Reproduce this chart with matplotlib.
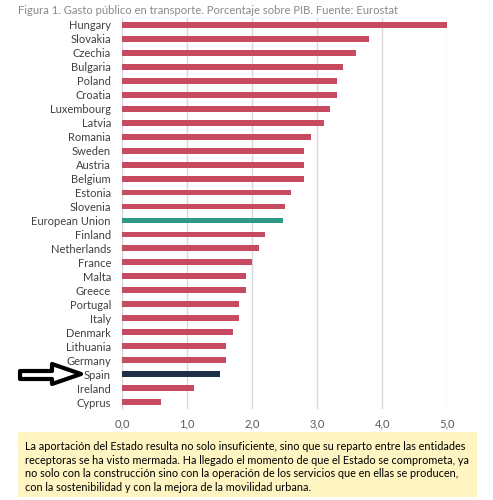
import matplotlib.pyplot as plt
import matplotlib.patches as mpatches
from matplotlib.ticker import FuncFormatter

# datos (Eurostat, % PIB)
paises = ['Hungary', 'Slovakia', 'Czechia', 'Bulgaria', 'Poland', 'Croatia',
          'Luxembourg', 'Latvia', 'Romania', 'Sweden', 'Austria', 'Belgium',
          'Estonia', 'Slovenia', 'European Union', 'Finland', 'Netherlands',
          'France', 'Malta', 'Greece', 'Portugal', 'Italy', 'Denmark',
          'Lithuania', 'Germany', 'Spain', 'Ireland', 'Cyprus']
valores = [5.0, 3.8, 3.6, 3.4, 3.3, 3.3, 3.2, 3.1, 2.9, 2.8, 2.8, 2.8,
           2.6, 2.5, 2.47, 2.2, 2.1, 2.0, 1.9, 1.9, 1.8, 1.8, 1.7,
           1.6, 1.6, 1.5, 1.1, 0.6]
xticks = [0, 1, 2, 3, 4, 5]

rojo = '#C64B60'
verde = '#2E9A86'
azul = '#1E3048'
colores = []
for p in paises:
    if p == 'European Union':
        colores.append(verde)
    elif p == 'Spain':
        colores.append(azul)
    else:
        colores.append(rojo)

plt.rcParams['font.family'] = ['Lato', 'DejaVu Sans']

fig = plt.figure(figsize=(4.93, 5.0), dpi=100)
ax = fig.add_axes([0.2475, 0.182, 0.6595, 0.782])

ax.barh(range(len(paises)), valores, height=0.42, color=colores, zorder=3)
ax.set_ylim(len(paises) - 0.5, -0.5)
ax.set_xlim(0, 5)
ax.set_yticks(range(len(paises)))
ax.set_yticklabels(paises, fontsize=8.0, color='#404040')
ax.set_xticks(xticks)
ax.xaxis.set_major_formatter(FuncFormatter(lambda v, p: f'{v:.1f}'.replace('.', ',')))
ax.tick_params(axis='x', labelsize=8.0, labelcolor='#595959', length=0, pad=7)
ax.tick_params(axis='y', length=0, pad=8)
ax.grid(axis='x', color='#d9d9d9', linewidth=1, zorder=0)
for s in ['top', 'right', 'bottom']:
    ax.spines[s].set_visible(False)
ax.spines['left'].set_color('#d9d9d9')

fig.text(18/493, 1 - 10/500, 'Figura 1. Gasto público en transporte. Porcentaje sobre PIB. Fuente: Eurostat',
         fontsize=8.1, color='#8a8a8a', va='center', ha='left')

# flecha hacia Spain
W, H = 493, 500
pts = [(20, 371), (52, 371), (52, 364), (81, 374), (52, 384), (52, 379), (20, 379)]
flecha = mpatches.Polygon([(x / W, 1 - y / H) for x, y in pts], closed=True,
                          facecolor='white', edgecolor='black', linewidth=3,
                          joinstyle='round', transform=fig.transFigure)
fig.add_artist(flecha)

# recuadro amarillo
caja = mpatches.Rectangle((18 / W, 1 - 497 / H), 459 / W, 65 / H,
                          facecolor='#FFF5C2', edgecolor='none', transform=fig.transFigure)
fig.add_artist(caja)
texto = ('La aportación del Estado resulta no solo insuficiente, sino que su reparto entre las entidades\n'
         'receptoras se ha visto mermada. Ha llegado el momento de que el Estado se comprometa, ya\n'
         'no solo con la construcción sino con la operación de los servicios que en ellas se producen,\n'
         'con la sostenibilidad y con la mejora de la movilidad urbana.')
fig.text(25 / W, 1 - 467 / H, texto, fontsize=7.8, color='black', va='center', ha='left',
         linespacing=1.3)

fig.savefig('out.png', dpi=100)
